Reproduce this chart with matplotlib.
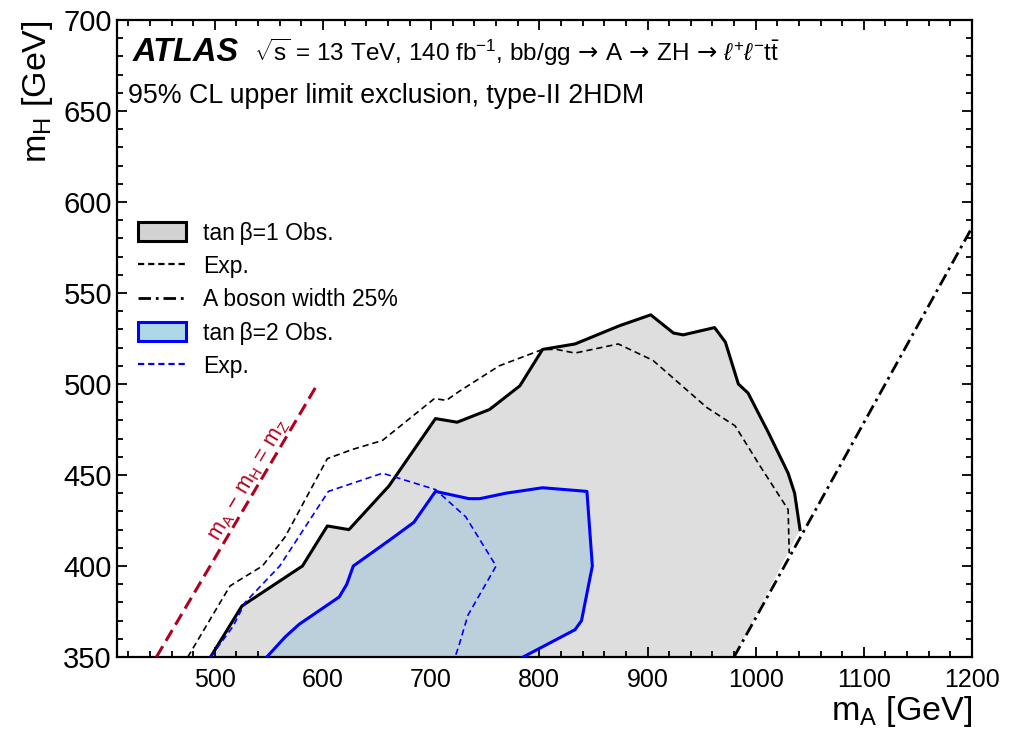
import matplotlib
matplotlib.use("Agg")
import matplotlib.pyplot as plt
from matplotlib.patches import Patch
from matplotlib.lines import Line2D

plt.rcParams["font.family"] = ["Liberation Sans", "DejaVu Sans"]
plt.rcParams["mathtext.fontset"] = "custom"
plt.rcParams["mathtext.rm"] = "Liberation Sans"
plt.rcParams["mathtext.it"] = "Liberation Sans:italic"
plt.rcParams["mathtext.bf"] = "Liberation Sans:bold"
plt.rcParams["mathtext.sf"] = "DejaVu Sans"
plt.rcParams["lines.scale_dashes"] = False

# tan(beta)=1 observed exclusion contour
obs1_mA = [496, 525, 581, 604, 624, 661, 704, 724, 754, 782, 803, 833, 874, 903,
           924, 933, 962, 972, 984, 993, 1012, 1030, 1036, 1041]
obs1_mH = [350, 378, 400, 422, 420, 444, 481, 479, 486, 499, 519, 522, 532, 538,
           528, 527, 531, 523, 500, 495, 473, 451, 440, 420]

# tan(beta)=1 expected contour
exp1_mA = [475, 514, 522, 544, 565, 604, 627, 655, 703, 714, 726, 763, 803, 816,
           833, 873, 905, 955, 981, 1004, 1030, 1031]
exp1_mH = [350, 389, 392, 400, 416, 459, 464, 469, 492, 491, 496, 510, 519, 519,
           517, 522, 513, 487, 477, 455, 431, 407]

# tan(beta)=2 observed exclusion contour
obs2_mA = [548, 565, 578, 615, 622, 628, 661, 684, 704, 735, 745, 769, 803, 844,
           849, 839, 833, 785]
obs2_mH = [350, 361, 368, 383, 390, 400, 414, 424, 441, 437, 437, 440, 443, 441,
           400, 370, 365, 350]

# tan(beta)=2 expected contour
exp2_mA = [496, 517, 528, 560, 605, 655, 704, 732, 760, 734, 725, 722]
exp2_mH = [350, 367, 380, 400, 441, 451, 442, 427, 400, 373, 355, 350]

# A boson width = 25% boundary
width_mA = [980, 1200]
width_mH = [350, 586]

# kinematic threshold m_A - m_H = m_Z
thr_mA = [446, 595]
thr_mH = [350, 500]

fig = plt.figure(figsize=(10.10, 7.35), dpi=100)
ax = fig.add_axes([0.1163, 0.1061, 0.8461, 0.8667])

grey_fill = "#dedede"
blue_fill = "#bcd0dc"
dark_red = "#b0001e"

# filled exclusion regions
ax.fill(obs1_mA + [980], obs1_mH + [350], color=grey_fill, lw=0, zorder=1)
ax.fill(obs2_mA, obs2_mH, color=blue_fill, lw=0, zorder=2)

ax.plot(obs1_mA, obs1_mH, color="black", lw=2.2, zorder=5)
ax.plot(exp1_mA, exp1_mH, color="black", lw=1.2, dashes=(4.5, 2.8), zorder=5)
ax.plot(obs2_mA, obs2_mH, color="blue", lw=2.2, zorder=5)
ax.plot(exp2_mA, exp2_mH, color="blue", lw=1.2, dashes=(4.5, 2.8), zorder=5)
ax.plot(width_mA, width_mH, color="black", lw=2.0, dashes=(9, 3.5, 2, 3.5), zorder=6)
ax.plot(thr_mA, thr_mH, color=dark_red, lw=2.2, dashes=(9, 4.5), zorder=6)

ax.text(532, 447, r"m$_{\mathrm{A}}\,-\,$m$_{\mathrm{H}}\,=\,$m$_{\mathrm{Z}}$",
        color=dark_red, fontsize=15.5, rotation=59.3, rotation_mode="anchor",
        ha="center", va="center")

ax.set_xlim(410, 1200)
ax.set_ylim(350, 700)
ax.set_xticks(range(500, 1201, 100))
ax.set_xticks(range(420, 1201, 20), minor=True)
ax.set_yticks(range(350, 701, 50))
ax.set_yticks(range(350, 701, 10), minor=True)
ax.tick_params(which="both", direction="in", top=True, right=True, width=1.3)
ax.tick_params(which="major", length=7)
ax.tick_params(which="minor", length=4)
ax.tick_params(axis="x", labelsize=18, pad=8)
ax.tick_params(axis="y", labelsize=21, pad=4)
for s in ax.spines.values():
    s.set_linewidth(1.6)

ax.set_xlabel(r"m$_{\mathrm{A}}$ [GeV]", fontsize=24.5, loc="right", labelpad=1)
ax.set_ylabel(r"m$_{\mathrm{H}}$ [GeV]", fontsize=24.5, loc="top", labelpad=6)

ax.text(0.018, 0.935, "ATLAS", transform=ax.transAxes, fontsize=23.5,
        fontweight="bold", fontstyle="italic", va="baseline")
ax.text(0.16, 0.935,
        r"$\sqrt{\mathrm{s}}$ = 13 TeV, 140 fb$^{-1}$, "
        r"bb/gg$\,\mathsf{\rightarrow}\,$A$\,\mathsf{\rightarrow}\,$ZH$\,\mathsf{\rightarrow}\,$"
        r"$\ell^{+}\ell^{-}\mathrm{t\bar{t}}$",
        transform=ax.transAxes, fontsize=17.5, va="baseline")
ax.text(0.012, 0.87, "95% CL upper limit exclusion, type-II 2HDM",
        transform=ax.transAxes, fontsize=19.3, va="baseline")

handles = [
    Patch(facecolor="#d3d3d3", edgecolor="black", linewidth=2.2),
    Line2D([], [], color="black", lw=1.6, dashes=(4.5, 2.8)),
    Line2D([], [], color="black", lw=2.0, dashes=(9, 3.5, 2, 3.5)),
    Patch(facecolor="#add8e6", edgecolor="blue", linewidth=2.2),
    Line2D([], [], color="blue", lw=1.6, dashes=(4.5, 2.8)),
]
labels = ["tan\u2009\u03b2=1 Obs.", "Exp.", "A boson width 25%",
          "tan\u2009\u03b2=2 Obs.", "Exp."]
ax.legend(handles, labels, loc="upper left", bbox_to_anchor=(0.0, 0.7155),
          frameon=False, fontsize=16.5, handlelength=2.1, handleheight=0.9,
          handletextpad=0.74, labelspacing=0.45, borderaxespad=0.0,
          borderpad=0.9)

fig.savefig("out.png", dpi=100)
